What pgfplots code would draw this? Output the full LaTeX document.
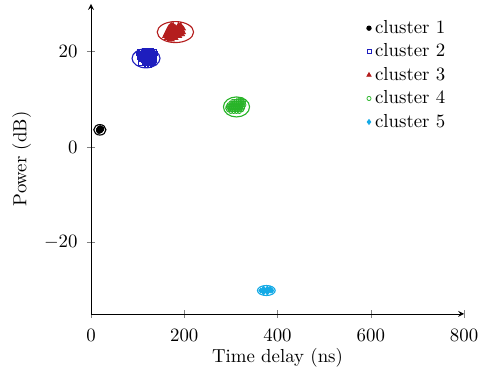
\documentclass[border=0pt]{standalone}
\usepackage{pgfplots}
\pgfplotsset{compat=1.18}
\definecolor{cA}{RGB}{0,0,0}
\definecolor{cB}{RGB}{30,30,190}
\definecolor{cC}{RGB}{180,30,30}
\definecolor{cD}{RGB}{40,180,40}
\definecolor{cE}{RGB}{20,170,230}
\begin{document}
\begin{tikzpicture}
\begin{axis}[
  scale only axis,
  width=198pt, height=164.5pt,
  axis lines=left,
  xmin=0, xmax=800, ymin=-35, ymax=30,
  xtick={0,200,400,600,800},
  ytick={-20,0,20},
  xticklabel shift=2.5pt,
  yticklabel shift=1.5pt,
  xlabel={Time delay (ns)},
  xlabel style={yshift=3pt},
  ylabel={Power (dB)},
  ylabel shift=0pt,
  legend cell align=left,
  legend style={draw=none, fill=none, at={(0.976,0.973)}, anchor=north east},
  legend image code/.code={\draw[mark repeat=2,mark phase=2,#1] plot coordinates {(0cm,0cm)(0.02cm,0cm)(0.04cm,0cm)};},
]
\addplot[only marks, mark=*, mark size=1.2pt, color=cA] coordinates {
(16,3.6) (18,3.9) (20,4.0) (22,3.7) (19,3.4) (21,3.5) (23,3.8) (17,3.3) (20,3.7)};
\addlegendentry{cluster 1}
\addplot[only marks, mark=square, mark size=1.1pt, color=cB] coordinates {
(114,20.3) (118,20.3) (122,20.3) (126,20.3) (130,20.3)
(104,19.95) (108,19.95) (112,19.95) (116,19.95) (120,19.95) (124,19.95) (128,19.95) (132,19.95) (136,19.95)
(102,19.6) (106,19.6) (110,19.6) (114,19.6) (118,19.6) (122,19.6) (126,19.6) (130,19.6) (134,19.6) (138,19.6)
(104,19.25) (108,19.25) (112,19.25) (116,19.25) (120,19.25) (124,19.25) (128,19.25) (132,19.25) (136,19.25)
(104,18.9) (108,18.9) (112,18.9) (116,18.9) (120,18.9) (124,18.9) (128,18.9) (132,18.9) (136,18.9)
(106,18.55) (110,18.55) (114,18.55) (118,18.55) (122,18.55) (126,18.55) (130,18.55) (134,18.55)
(112,18.2) (116,18.2) (120,18.2) (124,18.2) (128,18.2) (132,18.2) (136,18.2)
(114,17.85) (118,17.85) (122,17.85) (126,17.85) (130,17.85) (134,17.85)
(107,17.5) (116,17.5) (120,17.5) (124,17.5) (128,17.5) (132,17.5)
(118,17.15) (122,17.15) (126,17.15)};
\addlegendentry{cluster 2}
\addplot[only marks, mark=triangle*, mark size=1.3pt, color=cC] coordinates {
(172,25.6) (176,25.6) (188,25.6) (192,25.6)
(168,25.2) (172,25.2) (176,25.2) (180,25.2) (186,25.2) (190,25.2) (194,25.2)
(166,24.8) (170,24.8) (174,24.8) (178,24.8) (182,24.8) (186,24.8) (190,24.8) (194,24.8) (198,24.8)
(164,24.4) (168,24.4) (172,24.4) (176,24.4) (180,24.4) (184,24.4) (188,24.4) (192,24.4) (196,24.4)
(162,24.0) (166,24.0) (170,24.0) (174,24.0) (178,24.0) (182,24.0) (186,24.0) (190,24.0) (194,24.0) (198,24.0)
(160,23.6) (164,23.6) (168,23.6) (172,23.6) (176,23.6) (180,23.6) (184,23.6) (188,23.6) (192,23.6) (196,23.6)
(158,23.2) (162,23.2) (166,23.2) (170,23.2) (174,23.2) (178,23.2) (182,23.2) (186,23.2) (190,23.2)
(162,22.8) (166,22.8) (170,22.8) (174,22.8) (178,22.8) (182,22.8)
(168,22.5) (174,22.5)};
\addlegendentry{cluster 3}
\addplot[only marks, mark=o, mark size=1.1pt, color=cD] coordinates {
(316,9.9) (320,9.9) (324,9.9)
(304,9.55) (308,9.55) (312,9.55) (316,9.55) (320,9.55) (324,9.55) (327,9.55)
(300,9.2) (304,9.2) (308,9.2) (312,9.2) (316,9.2) (320,9.2) (324,9.2) (327,9.2)
(296,8.85) (300,8.85) (304,8.85) (308,8.85) (312,8.85) (316,8.85) (320,8.85) (324,8.85) (328,8.85)
(294,8.5) (298,8.5) (302,8.5) (306,8.5) (310,8.5) (314,8.5) (318,8.5) (322,8.5) (326,8.5)
(293,8.15) (297,8.15) (301,8.15) (305,8.15) (309,8.15) (313,8.15) (317,8.15) (321,8.15) (325,8.15)
(295,7.8) (299,7.8) (303,7.8) (307,7.8) (311,7.8) (315,7.8) (319,7.8) (323,7.8)
(300,7.45) (306,7.45) (312,7.45) (318,7.45)};
\addlegendentry{cluster 4}
\addplot[only marks, mark=diamond*, mark size=1.3pt, color=cE] coordinates {
(370,-29.7) (378,-29.7) (384,-29.7)
(364,-30.1) (368,-30.1) (372,-30.1) (376,-30.1) (380,-30.1) (384,-30.1) (388,-30.1)
(370,-30.5) (378,-30.5)};
\addlegendentry{cluster 5}
\draw[cA, semithick] (axis cs:19,3.6) ellipse [x radius=13, y radius=1.1];
\draw[cB, semithick] (axis cs:118,18.6) ellipse [x radius=30, y radius=2.0];
\draw[cC, semithick] (axis cs:181,24.1) ellipse [x radius=39, y radius=2.2];
\draw[cD, semithick] (axis cs:312,8.4) ellipse [x radius=28, y radius=2.1];
\draw[cE, semithick] (axis cs:376,-30.1) ellipse [x radius=19, y radius=1.05];
\end{axis}
\pgfresetboundingbox
\path[use as bounding box] ([xshift=-48.3pt,yshift=-31.3pt]current axis.south west) rectangle ([xshift=7.4pt,yshift=2.1pt]current axis.north east);
\end{tikzpicture}
\end{document}
